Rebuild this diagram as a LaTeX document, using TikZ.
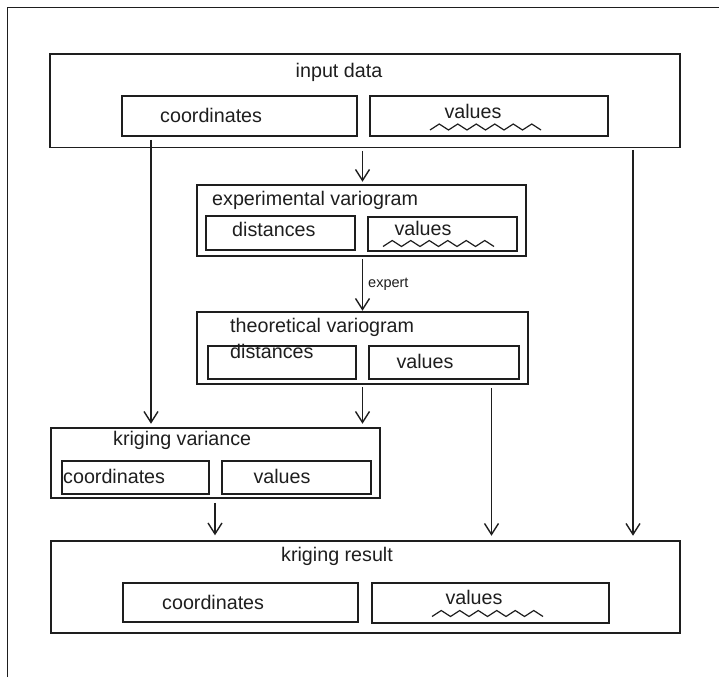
\documentclass[tikz,border=0pt]{standalone}
\usepackage{fontspec}
\setmainfont{Liberation Sans}
\usetikzlibrary{arrows.meta}
\definecolor{ink}{HTML}{1E1E1E}
\tikzset{
  box/.style={draw=ink, line width=1.5pt, rectangle, inner sep=0pt},
  subbox/.style={draw=ink, line width=1.8pt, rectangle, inner sep=0pt},
  lbl/.style={text=ink, inner sep=0pt, font=\fontsize{19.7}{22}\selectfont},
  small/.style={text=ink, inner sep=0pt, font=\fontsize{14.5}{16}\selectfont},
  arr/.style={draw=ink, line width=1.4pt, -{Straight Barb[length=11pt,width=14pt,line width=1.4pt]}},
  wave/.pic={
    \draw[ink, line width=1.2pt, line join=miter]
      (0,0) \foreach \k in {1,...,6} {-- ++(9.25,-6) -- ++(9.25,6)};
  },
}
\begin{document}
\begin{tikzpicture}[x=1pt, y=-1pt]
\useasboundingbox (0,0) rectangle (719,677);

% page frame (top and left edges)
\coordinate (fbl) at (7.5,677);
\coordinate (ftl) at (7.5,7.5);
\coordinate (ftr) at (719,7.5);
\draw[ink, line width=1.3pt] (fbl) -- (ftl) -- (ftr);

% input data
\node[box, minimum width=630pt, minimum height=93.5pt] (inbox) at (365,100.75) {};
\node[lbl] (intitle) at (339,72) {input data};
\node[subbox, minimum width=235pt, minimum height=40pt] (incoord) at (239.5,116) {};
\node[lbl, anchor=west] (incoordt) at (160,115) {coordinates};
\node[subbox, minimum width=238pt, minimum height=40pt] (inval) at (489,116) {};
\node[lbl] (invalt) at (473,111) {values};
\pic at (430,130) {wave};

% experimental variogram
\node[box, minimum width=329pt, minimum height=71pt] (expbox) at (361.5,220.5) {};
\node[lbl, anchor=west] (exptitle) at (212,200) {experimental variogram};
\node[subbox, minimum width=149pt, minimum height=34pt] (expdist) at (280.5,233) {};
\node[lbl, anchor=west] (expdistt) at (232,229) {distances};
\node[subbox, minimum width=149pt, minimum height=34pt] (expval) at (442.5,234) {};
\node[lbl] (expvalt) at (423,228) {values};
\pic at (383,246.5) {wave};

% theoretical variogram
\node[box, minimum width=331pt, minimum height=72pt] (thbox) at (362.5,348) {};
\node[lbl, anchor=west] (thtitle) at (230,327) {theoretical variogram};
\node[subbox, minimum width=148pt, minimum height=33pt] (thdist) at (282,362.5) {};
\node[lbl, anchor=west] (thdistt) at (230,351) {distances};
\node[subbox, minimum width=150pt, minimum height=33pt] (thval) at (444,362.5) {};
\node[lbl] (thvalt) at (425,361) {values};

% kriging variance
\node[box, minimum width=329pt, minimum height=70pt] (kvbox) at (215.5,463) {};
\node[lbl, anchor=west] (kvtitle) at (113,440) {kriging variance};
\node[subbox, minimum width=147pt, minimum height=33pt] (kvcoord) at (135.5,477.5) {};
\node[lbl, anchor=west] (kvcoordt) at (63,476) {coordinates};
\node[subbox, minimum width=149pt, minimum height=33pt] (kvval) at (296.5,477.5) {};
\node[lbl] (kvvalt) at (282,476) {values};

% kriging result
\node[box, minimum width=629pt, minimum height=92pt] (krbox) at (365.5,587) {};
\node[lbl, anchor=west] (krtitle) at (281,556) {kriging result};
\node[subbox, minimum width=235pt, minimum height=39pt] (krcoord) at (240.5,602.5) {};
\node[lbl, anchor=west] (krcoordt) at (162,602) {coordinates};
\node[subbox, minimum width=237pt, minimum height=40pt] (krval) at (490.5,603) {};
\node[lbl] (krvalt) at (474,597) {values};
\pic at (432,616.5) {wave};

% connector columns
\coordinate (colA) at (151,0);
\coordinate (colB) at (362.5,0);
\coordinate (colC) at (491.5,0);
\coordinate (colD) at (633,0);
\coordinate (colE) at (215,0);

% connectors
\draw[arr] ([yshift=-2.5pt]inbox.south -| colB) -- ([yshift=2.5pt]expbox.north -| colB);
\draw[arr] ([yshift=-2pt]expbox.south -| colB) -- ([yshift=0.5pt]thbox.north -| colB)
  node[small, anchor=west, pos=0.5, xshift=5pt] (expert) {expert};
\draw[arr] ([yshift=-3pt]incoord.south -| colA) -- ([yshift=3.5pt]kvbox.north -| colA);
\draw[arr] ([yshift=-2pt]thbox.south -| colB) -- ([yshift=3.5pt]kvbox.north -| colB);
\draw[arr] ([yshift=-3pt]thbox.south -| colC) -- ([yshift=4.5pt]krbox.north -| colC);
\draw[arr] ([yshift=-1.5pt]inbox.south -| colD) -- ([yshift=4.5pt]krbox.north -| colD);
\draw[arr] ([yshift=-4pt]kvbox.south -| colE) -- ([yshift=5pt]krbox.north -| colE);
\end{tikzpicture}
\end{document}
